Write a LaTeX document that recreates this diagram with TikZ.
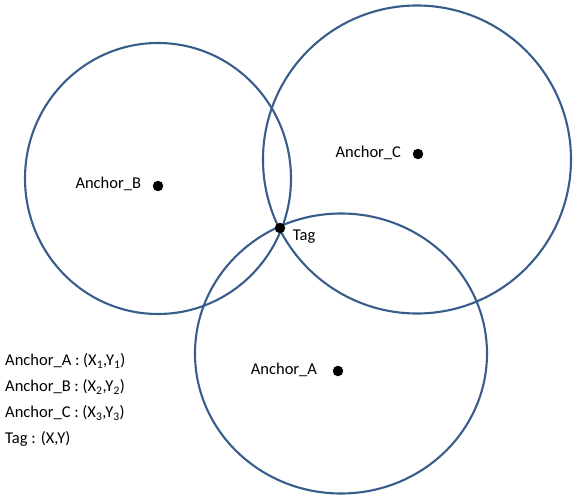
\documentclass[tikz,border=0pt]{standalone}
\usepackage{fontspec}
\setmainfont{Carlito}
\usetikzlibrary{positioning}
\definecolor{ringblue}{RGB}{56,93,138}

\begin{document}
\begin{tikzpicture}[x=1pt, y=-1pt,
  ring/.style={draw=ringblue, line width=2.1pt},
  dot/.style={circle, fill=black, inner sep=0pt, minimum size=10.5pt},
  every node/.style={font=\fontsize{16.5}{20}\selectfont}]
\useasboundingbox (0,0) rectangle (574,495);
% ranges round each anchor
\draw[ring] (158,178.5) ellipse [x radius=133pt, y radius=135.5pt];
\draw[ring] (417,159.5) circle [radius=154pt];
\draw[ring] (341,353.5) ellipse [x radius=146pt, y radius=140pt];
% anchors and tag
\node[dot] (anchorA) at (338,371) {};
\node[dot] (anchorB) at (158,186) {};
\node[dot] (anchorC) at (418,154) {};
\node[dot] (tag) at (280,228) {};
\node[left=12pt of anchorA, yshift=1pt] (labA) {Anchor\_A};
\node[left=8pt of anchorB, yshift=2pt] (labB) {Anchor\_B};
\node[left=8pt of anchorC, yshift=1pt] (labC) {Anchor\_C};
\node[right=4pt of tag, yshift=-9pt] (labTag) {Tag};
% legend
\node[anchor=west] (legA) at (1.7,361) {Anchor\_A : (X\textsubscript{1},Y\textsubscript{1})};
\node[anchor=west] (legB) at (1.7,387) {Anchor\_B : (X\textsubscript{2},Y\textsubscript{2})};
\node[anchor=west] (legC) at (1.7,413) {Anchor\_C : (X\textsubscript{3},Y\textsubscript{3})};
\node[anchor=west] (legTag) at (1.7,439) {Tag : (X,Y)};
\end{tikzpicture}
\end{document}
